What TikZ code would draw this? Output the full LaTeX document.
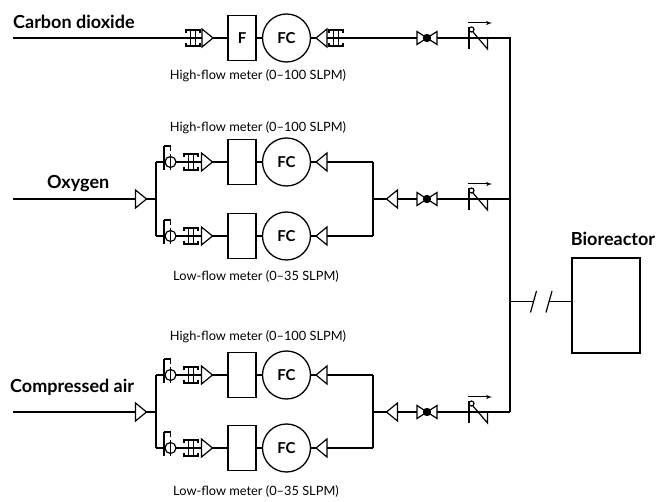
\documentclass[tikz,border=0pt]{standalone}
\usepackage{fontspec}
\setmainfont{Lato}
\usepackage{tikz}
\usetikzlibrary{arrows}
\usetikzlibrary{positioning}
\tikzset{pipe/.style = {line width=1.5pt},
         sym/.style = {line width=1.2pt},
         meterbox/.style = {draw, line width=1.3pt, fill=white, minimum width=28pt,
                            minimum height=45pt, inner sep=0pt,
                            font=\bfseries\fontsize{15}{17}\selectfont},
         fcircle/.style = {draw, circle, line width=1.3pt, fill=white, minimum size=48pt,
                           inner sep=0pt, font=\bfseries\fontsize{15}{17}\selectfont},
         caption/.style = {font=\fontsize{12.8}{14}\selectfont},
         gaslabel/.style = {inner sep=0pt, font=\bfseries\fontsize{18}{20}\selectfont}}
\tikzset{filt/.pic = {\draw [sym] (-7,-5) -- (-7,-8) -- (7,-8) -- (7,-5);
                      \draw [sym] (-7,5) -- (-7,8) -- (7,8) -- (7,5);
                      \draw [sym] (-2.5,-8) -- (-2.5,8) (2.5,-8) -- (2.5,8);},
         tri/.pic = {\draw [sym, fill=white] (-5,-9) -- (6,0) -- (-5,9) -- cycle;},
         regul/.pic = {\draw [sym] (-6.5,-16) -- (-6.5,8);
                       \draw [sym] (-6.5,-16) -- (0,-16) -- (0,-11);
                       \draw [sym, fill=white] (0,0) circle (5.5);
                       \draw [sym] (0,-8) -- (0,8);},
         bowvalve/.pic = {\draw [sym, fill=white] (-10,-6.5) -- (-10,6.5) -- (10,-6.5) -- (10,6.5) -- cycle;
                          \fill (0,0) circle (4.2);},
         checkv/.pic = {\draw [sym] (-9,-11) -- (-9,11);
                        \draw [sym] (-6.5,-8.5) circle (2.5);
                        \draw [sym] (-5,-6) -- (9.5,11) -- (9.5,0);
                        \draw [line width=1pt, -latex'] (-10,-15) -- (14,-15);}}

\begin{document}
\begin{tikzpicture}[x=1pt, y=-1pt]
    \useasboundingbox (0,0) rectangle (657,502);

    % carbon dioxide
    \coordinate (co2in) at (13,38);
    \coordinate (co2turn) at (510,38);
    \coordinate (airturn) at (510,412);
    \node [meterbox] (fbox) at (242,38) {F};
    \node [fcircle] (fcco2) at (286.5,38) {FC};
    \draw [pipe] (co2in) -- (fbox);
    \draw [pipe] (fbox) -- (fcco2);
    \draw [pipe] (fcco2) -- (co2turn) -- (airturn);
    \pic at (193,38) {filt};
    \pic at (207,38) {tri};
    \pic [rotate=180] at (322,38) {tri};
    \pic at (336,38) {filt};
    \pic at (427,38) {bowvalve};
    \pic at (478,38) {checkv};
    \node [gaslabel, anchor=base west] (co2lbl) at (13,29) {Carbon dioxide};
    \node [caption] (co2cap) at (258,76) {High-flow meter (0--100 SLPM)};

    % meter branches
    \foreach \y/\n in {162/oxhi, 236/oxlo, 375/airhi, 448/airlo} {
      \coordinate (in\n) at (156,\y);
      \coordinate (out\n) at (373,\y);
      \node [meterbox] (box\n) at (242,\y) {};
      \node [fcircle] (fc\n) at (286.5,\y) {FC};
      \draw [pipe] (in\n) -- (box\n);
      \draw [pipe] (box\n) -- (fc\n);
      \draw [pipe] (fc\n) -- (out\n);
      \pic at (170.5,\y) {regul};
      \pic at (191,\y) {filt};
      \pic at (206.5,\y) {tri};
      \pic [rotate=180] at (322,\y) {tri};
    }

    % oxygen
    \coordinate (oxin) at (13,199);
    \coordinate (oxsplit) at (156,199);
    \coordinate (oxjoin) at (373,199);
    \coordinate (oxturn) at (510,199);
    \draw [pipe] (oxin) -- (oxsplit);
    \draw [pipe] (inoxhi) -- (inoxlo);
    \draw [pipe] (outoxhi) -- (outoxlo);
    \draw [pipe] (oxjoin) -- (oxturn);
    \pic at (140.5,199) {tri};
    \pic [rotate=180] at (392.5,199) {tri};
    \pic at (427,199) {bowvalve};
    \pic at (478,199) {checkv};
    \node [gaslabel, anchor=base west] (oxlbl) at (47,189) {Oxygen};
    \node [caption] (oxhicap) at (258,128) {High-flow meter (0--100 SLPM)};
    \node [caption] (oxlocap) at (256,276) {Low-flow meter (0--35 SLPM)};

    % compressed air
    \coordinate (airin) at (13,412);
    \coordinate (airsplit) at (156,412);
    \coordinate (airjoin) at (373,412);
    \draw [pipe] (airin) -- (airsplit);
    \draw [pipe] (inairhi) -- (inairlo);
    \draw [pipe] (outairhi) -- (outairlo);
    \draw [pipe] (airjoin) -- (airturn);
    \pic at (140.5,412) {tri};
    \pic [rotate=180] at (392.5,412) {tri};
    \pic at (427,412) {bowvalve};
    \pic at (478,412) {checkv};
    \node [gaslabel, anchor=base west] (airlbl) at (10,393) {Compressed air};
    \node [caption] (airhicap) at (258,337) {High-flow meter (0--100 SLPM)};
    \node [caption] (airlocap) at (256,491) {Low-flow meter (0--35 SLPM)};

    % bioreactor
    \node [draw, line width=1.3pt, minimum width=68pt, minimum height=95pt] (reactor) at (606,305.5) {};
    \node [gaslabel, above=12pt of reactor, xshift=7pt] (reactorlbl) {Bioreactor};
    \coordinate (tap) at (510,301.5);
    \coordinate (brkl) at (533,301.5);
    \coordinate (brkr) at (549,301.5);
    \draw [pipe] (tap) -- (brkl);
    \draw [pipe] (brkr) -- (brkr -| reactor.west);
    \draw [sym] (530.5,312.5) -- (536.5,291) (546,312.5) -- (552,291);
\end{tikzpicture}
\end{document}
